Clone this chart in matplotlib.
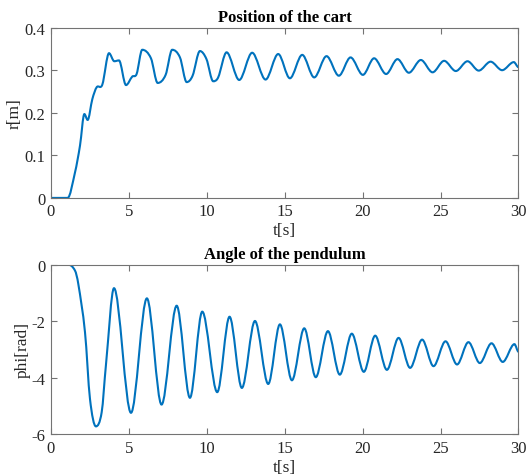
import numpy as np
import matplotlib
matplotlib.use("Agg")
from matplotlib import pyplot as plt
from matplotlib.path import Path
from matplotlib.patches import PathPatch
from matplotlib.ticker import FormatStrFormatter

# cart position (knots: start, bends, peaks, troughs)
t_cart = [0, 1.09, 1.56, 1.88, 2.16, 2.37, 2.67, 2.95, 3.31, 3.74, 4.08, 4.38,
          4.83, 5.23, 5.51, 5.87, 6.43, 6.86, 7.37, 7.79, 8.29, 8.72, 9.10,
          9.57, 9.99, 10.42, 10.74, 11.28, 12.09, 12.92, 13.78, 14.59, 15.34,
          16.13, 16.90, 17.69, 18.48, 19.23, 20.02, 20.74, 21.51, 22.24,
          22.97, 23.74, 24.49, 25.23, 25.98, 26.73, 27.45, 28.21, 28.95,
          29.70, 30.0]
r_cart = [0, 0, 0.060, 0.123, 0.197, 0.183, 0.232, 0.260, 0.266, 0.340, 0.321,
          0.323, 0.265, 0.285, 0.291, 0.348, 0.328, 0.270, 0.289, 0.348,
          0.330, 0.272, 0.287, 0.345, 0.326, 0.274, 0.283, 0.342, 0.277,
          0.341, 0.278, 0.338, 0.281, 0.336, 0.283, 0.333, 0.287, 0.330,
          0.289, 0.328, 0.291, 0.326, 0.294, 0.324, 0.295, 0.322, 0.298,
          0.321, 0.299, 0.320, 0.300, 0.319, 0.307]

# pendulum angle
t_pend = [0, 1.13, 1.56, 1.77, 2.20, 2.52, 2.90, 3.27, 3.54, 4.06, 5.15, 6.17,
          7.11, 8.08, 8.93, 9.72, 10.68, 11.47, 12.26, 13.10, 13.95, 14.70,
          15.47, 16.26, 17.00, 17.78, 18.54, 19.31, 20.08, 20.81, 21.56,
          22.31, 23.05, 23.82, 24.55, 25.32, 26.06, 26.79, 27.52, 28.27,
          28.99, 29.74, 30.0]
phi_pend = [0, 0, -0.21, -0.68, -2.39, -4.75, -5.72, -5.22, -3.57, -0.83,
            -5.24, -1.19, -4.95, -1.45, -4.71, -1.66, -4.51, -1.84, -4.36,
            -1.99, -4.22, -2.11, -4.09, -2.25, -3.98, -2.35, -3.89, -2.44,
            -3.79, -2.51, -3.72, -2.59, -3.65, -2.65, -3.59, -2.71, -3.53,
            -2.74, -3.48, -2.78, -3.44, -2.81, -3.08]

line_col = '#0072BD'
edge_col = '0.45'
text_col = '0.15'

plt.rcParams['font.family'] = ['Liberation Serif', 'DejaVu Serif']
plt.rcParams['axes.unicode_minus'] = False


def smooth_path(t, y):
    # cubic bezier through the knots, flat tangent at turning points
    t = np.asarray(t, float)
    y = np.asarray(y, float)
    n = len(t)
    m = np.zeros(n)
    for i in range(1, n - 1):
        if (y[i] - y[i-1]) * (y[i+1] - y[i]) > 0:
            m[i] = (y[i+1] - y[i-1]) / (t[i+1] - t[i-1])
    verts = [(t[0], y[0])]
    codes = [Path.MOVETO]
    for i in range(n - 1):
        dt = t[i+1] - t[i]
        verts += [(t[i] + dt/3, y[i] + m[i]*dt/3),
                  (t[i+1] - dt/3, y[i+1] - m[i+1]*dt/3),
                  (t[i+1], y[i+1])]
        codes += [Path.CURVE4] * 3
    return Path(verts, codes)


fig = plt.figure(figsize=(5.28, 4.77), dpi=100)
ax1 = fig.add_axes([0.096, 0.583, 0.886, 0.357])
ax2 = fig.add_axes([0.096, 0.0874, 0.886, 0.3556])

for ax, t, y in [(ax1, t_cart, r_cart), (ax2, t_pend, phi_pend)]:
    ax.add_patch(PathPatch(smooth_path(t, y), fill=False, edgecolor=line_col,
                           lw=1.5, capstyle='round', joinstyle='round'))
    ax.set_xlim(0, 30)
    ax.set_xticks([0, 5, 10, 15, 20, 25, 30])
    ax.tick_params(direction='in', top=True, right=True, labelsize=12,
                   length=4, color=edge_col, labelcolor=text_col, pad=4)
    for s in ax.spines.values():
        s.set_color(edge_col)
        s.set_linewidth(0.8)
    ax.set_xlabel('t[s]', fontsize=12.5, color=text_col, labelpad=2)

ax1.set_ylim(0, 0.4)
ax1.set_yticks([0, 0.1, 0.2, 0.3, 0.4])
ax1.yaxis.set_major_formatter(FormatStrFormatter('%g'))
ax1.set_ylabel('r[m]', fontsize=12.5, color=text_col)
ax1.yaxis.set_label_coords(-0.059, 0.5)
ax1.set_title('Position of the cart', fontsize=12, fontweight='bold', pad=5)

ax2.set_ylim(-6, 0)
ax2.set_yticks([-6, -4, -2, 0])
ax2.yaxis.set_major_formatter(FormatStrFormatter('%g'))
ax2.set_ylabel('phi[rad]', fontsize=12.5, color=text_col)
ax2.yaxis.set_label_coords(-0.042, 0.5)
ax2.set_title('Angle of the pendulum', fontsize=12, fontweight='bold', pad=5)

fig.savefig('out.png', dpi=100)
